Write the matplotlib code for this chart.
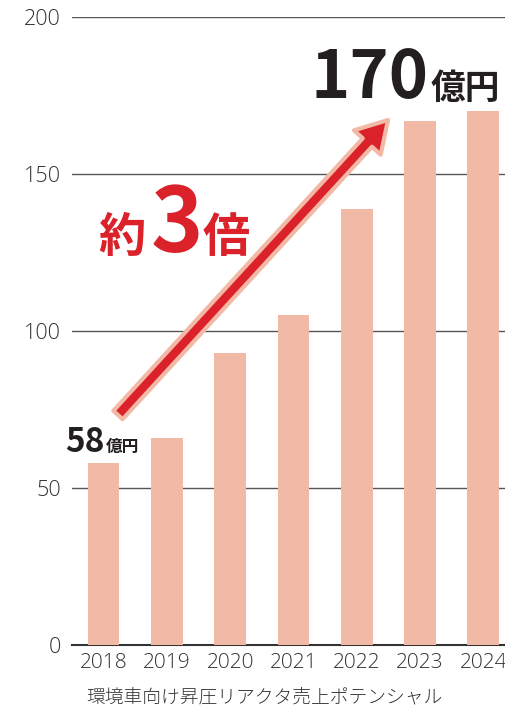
import matplotlib
matplotlib.use("Agg")
import matplotlib.pyplot as plt
from matplotlib.patches import FancyArrowPatch

plt.rcParams['font.family'] = ['Noto Sans CJK JP', 'DejaVu Sans']

# データ
years = ['2018', '2019', '2020', '2021', '2022', '2023', '2024']
sales = [58, 66, 93, 105, 139, 167, 170]
yticks = [0, 50, 100, 150, 200]
xlabel = '環境車向け昇圧リアクタ売上ポテンシャル'

W, H = 506, 709
fig = plt.figure(figsize=(W / 100, H / 100), dpi=100)
ax = fig.add_axes([72 / W, (H - 645) / H, 1 - 72 / W, (645 - 17) / H])

def px(x, y):
    # 画像のピクセル座標 -> figure座標
    return x / W, 1 - y / H

x = range(len(years))
ax.bar(x, sales, width=0.5, color='#f2b9a6', zorder=3)

ax.set_ylim(0, 200)
ax.set_xlim(-0.5, len(years) - 1 + 0.36)
ax.set_yticks(yticks)
ax.set_xticks(list(x))
ax.set_xticklabels(years)
for yv in yticks[1:]:
    ax.axhline(yv, color='#555555', lw=1.0, zorder=1)

for s in ['top', 'right', 'left']:
    ax.spines[s].set_visible(False)
ax.spines['bottom'].set_color('#333333')
ax.spines['bottom'].set_linewidth(1.5)
ax.tick_params(axis='both', length=0, colors='#333333')
ax.tick_params(axis='y', pad=8)
ax.tick_params(axis='x', pad=6)
for lab in ax.get_yticklabels():
    lab.set_family(['Open Sans', 'DejaVu Sans'])
    lab.set_fontweight('light')
    lab.set_fontsize(15.5)
for lab in ax.get_xticklabels():
    lab.set_family(['Open Sans', 'DejaVu Sans'])
    lab.set_fontweight('light')
    lab.set_fontsize(15)

fig.text(*px(264, 697), xlabel, fontsize=13.5, color='#333333', fontweight='light',
         ha='center', va='center')

# 矢印
arr = FancyArrowPatch(posA=px(118, 415), posB=px(388, 120), transform=fig.transFigure,
                      arrowstyle='simple,head_length=1.1,head_width=1.3,tail_width=0.45',
                      mutation_scale=20, facecolor='#db2129', edgecolor='#f2b9a6',
                      linewidth=3, shrinkA=0, shrinkB=0, zorder=5)
fig.patches.append(arr)

# 注記テキスト
fig.text(*px(122, 252), '約', fontsize=34, fontweight='bold', color='#db2129',
         ha='center', va='baseline')
fig.text(*px(177, 252), '3', fontsize=64, fontweight='bold', color='#db2129',
         ha='center', va='baseline')
fig.text(*px(226, 252), '倍', fontsize=34, fontweight='bold', color='#db2129',
         ha='center', va='baseline')

fig.text(*px(429, 98), '170', fontsize=48, fontweight='bold', color='#231f20',
         ha='right', va='baseline')
fig.text(*px(431, 99), '億円', fontsize=25, fontweight='bold', color='#231f20',
         ha='left', va='baseline')

fig.text(*px(105, 452), '58', fontsize=24, fontweight='bold', color='#231f20',
         ha='right', va='baseline')
fig.text(*px(106, 452), '億円', fontsize=12, fontweight='bold', color='#231f20',
         ha='left', va='baseline')

fig.savefig('out.png', dpi=100)
